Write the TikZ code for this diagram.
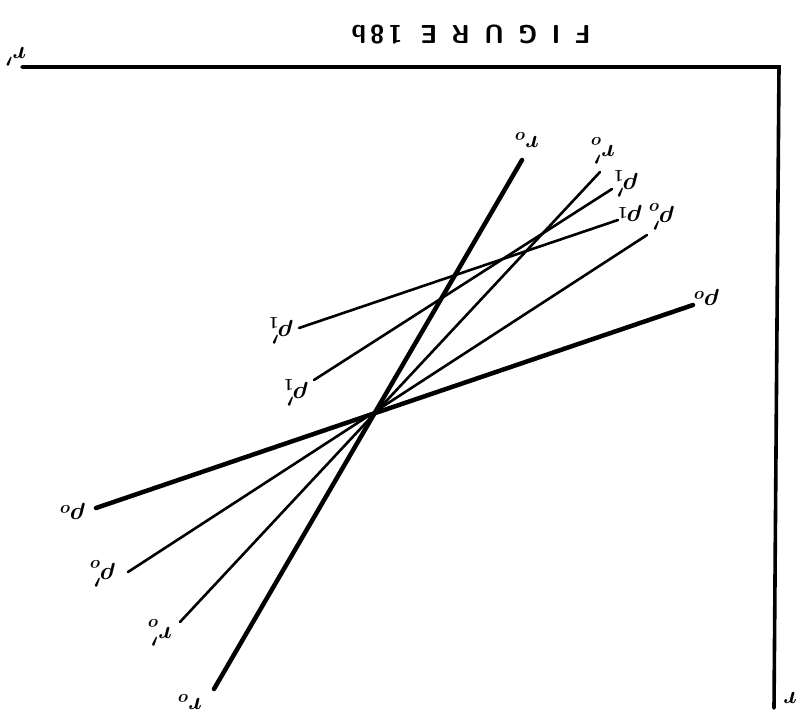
\documentclass[tikz,border=0pt]{standalone}
\begin{document}
\begin{tikzpicture}[x=1pt,y=-1pt,
  thickline/.style={line width=4.5pt,line cap=round},
  thinline/.style={line width=2.6pt,line cap=round},
  axisline/.style={line width=3.6pt,line cap=round},
  lab/.style={rotate=180,font=\fontsize{24}{24}\selectfont\boldmath,inner sep=0pt},
  title/.style={rotate=180,font=\fontsize{26}{26}\selectfont\sffamily\bfseries,inner sep=0pt}]
\useasboundingbox (0,0) rectangle (801,719);
% axes
\coordinate (o1) at (22,67);
\coordinate (o2) at (779,67);
\coordinate (o3) at (774,708);
\draw[axisline] (o1) -- (o2) -- (o3);
\node[lab] (rp) at (16,57) {$r'$};
\node[lab] (r) at (790,698) {$r$};
\node[title] (ttl) at (471,35) {F\hspace{0.55em}I\hspace{0.55em}G\hspace{0.55em}U\hspace{0.55em}R\hspace{0.55em}E\hspace{0.7em}1\hspace{0.15em}8\hspace{0.15em}b};
% line endpoints
\coordinate (r0t) at (522,160);  \coordinate (r0b) at (214,689);
\coordinate (r1t) at (600,172);  \coordinate (r1b) at (180,622);
\coordinate (p0t) at (693,305);  \coordinate (p0b) at (96,508);
\coordinate (q0t) at (647,235);  \coordinate (q0b) at (128,572);
\coordinate (pat) at (618,220);  \coordinate (pab) at (299,328);
\coordinate (pbt) at (612,189);  \coordinate (pbb) at (314,380);
\draw[thickline] (r0t) -- (r0b);
\draw[thinline] (r1t) -- (r1b);
\draw[thickline] (p0t) -- (p0b);
\draw[thinline] (q0t) -- (q0b);
\draw[thinline] (pat) -- (pab);
\draw[thinline] (pbt) -- (pbb);
% labels
\node[lab] (l1) at (527,140) {$r_o$};
\node[lab] (l2) at (190,702) {$r_o$};
\node[lab] (l3) at (603,151) {$r_o'$};
\node[lab] (l4) at (160,633) {$r_o'$};
\node[lab] (l5) at (707,298) {$\rho_o$};
\node[lab] (l6) at (73,512) {$\rho_o$};
\node[lab] (l7) at (662,217) {$\rho_o'$};
\node[lab] (l8) at (103,574) {$\rho_o'$};
\node[lab] (l9) at (630,214) {$\rho_1$};
\node[lab] (l10) at (281,331) {$\rho_1'$};
\node[lab] (l11) at (626,184) {$\rho_1'$};
\node[lab] (l12) at (296,393) {$\rho_1'$};
\end{tikzpicture}
\end{document}
